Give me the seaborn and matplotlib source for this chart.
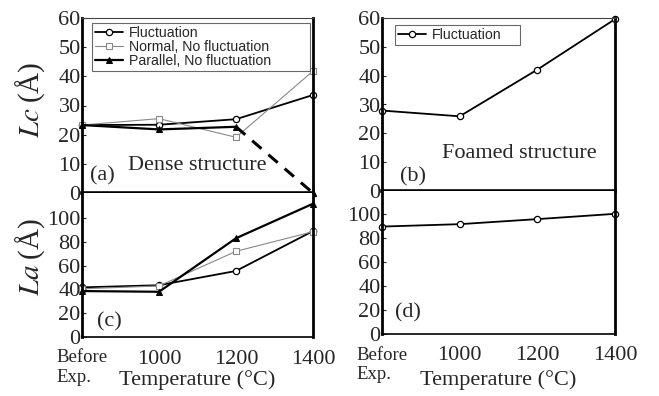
import matplotlib
matplotlib.use("Agg")
import matplotlib.pyplot as plt
import seaborn as sns

# ── Data ──────────────────────────────────────────────────────
temps = ["Before\nExp.", "1000", "1200", "1400"]
xpos = [0, 1, 2, 3]

# (a) dense structure, Lc
dense_lc_fluct = [23.3, 23.4, 25.3, 33.6]
dense_lc_normal = [23.3, 25.5, 19.1, 41.8]
dense_lc_parallel = [23.3, 21.8, 22.7, 0.0]

# (c) dense structure, La
dense_la_fluct = [41.7, 43.5, 55.5, 89.0]
dense_la_normal = [40.5, 42.9, 72.0, 88.5]
dense_la_parallel = [38.6, 38.0, 83.0, 112.0]

# (b) / (d) foamed structure
foam_lc_fluct = [27.9, 25.9, 42.1, 59.6]
foam_la_fluct = [89.4, 91.4, 95.6, 100.0]

# ── Style ─────────────────────────────────────────────────────
sns.set_theme(style="white")
plt.rcParams["font.family"] = ["Liberation Serif", "DejaVu Serif"]
plt.rcParams["mathtext.fontset"] = "stix"

fig = plt.figure(figsize=(6.59, 3.96), dpi=100)
W, H = 659, 396


def add_ax(x0, x1, y0, y1):
    return fig.add_axes([x0 / W, 1 - y1 / H, (x1 - x0) / W, (y1 - y0) / H])


axa = add_ax(82, 313, 18, 193)
axc = add_ax(82, 313, 193, 337)
axb = add_ax(382, 615, 18, 191)
axd = add_ax(382, 615, 191, 334)

fluct_kw = dict(color="black", linewidth=1.3, marker="o", markersize=4.5,
                markerfacecolor="white", markeredgecolor="black",
                markeredgewidth=0.9, clip_on=False)
normal_kw = dict(color="#888888", linewidth=0.8, marker="s", markersize=4.5,
                 markerfacecolor="white", markeredgecolor="#888888",
                 markeredgewidth=0.8, clip_on=False)
par_kw = dict(color="black", linewidth=1.6, marker="^", markersize=5,
              markerfacecolor="black", markeredgecolor="black", clip_on=False)

# (a)
sns.lineplot(x=xpos, y=dense_lc_fluct, ax=axa, label="Fluctuation", **fluct_kw)
sns.lineplot(x=xpos, y=dense_lc_normal, ax=axa,
             label="Normal, No fluctuation", **normal_kw)
sns.lineplot(x=xpos[:3], y=dense_lc_parallel[:3], ax=axa,
             label="Parallel, No fluctuation", **par_kw)
axa.plot(xpos[2:], dense_lc_parallel[2:], color="black", linewidth=2.2,
         linestyle=(0, (4, 3)), clip_on=False)
axa.plot(xpos[3:], dense_lc_parallel[3:], linestyle="none", marker="^",
         markersize=5, color="black", clip_on=False)

# (c)
sns.lineplot(x=xpos, y=dense_la_fluct, ax=axc, **fluct_kw)
sns.lineplot(x=xpos, y=dense_la_normal, ax=axc, **normal_kw)
sns.lineplot(x=xpos, y=dense_la_parallel, ax=axc, **par_kw)

# (b), (d)
sns.lineplot(x=xpos, y=foam_lc_fluct, ax=axb, label="Fluctuation", **fluct_kw)
sns.lineplot(x=xpos, y=foam_la_fluct, ax=axd, **fluct_kw)

for top, bot, yl_bot, xlab_y in [(axa, axc, 121, -0.30), (axb, axd, 119, -0.32)]:
    top.set_xlim(0, 3)
    bot.set_xlim(0, 3)
    top.set_ylim(0, 60)
    bot.set_ylim(0, yl_bot)
    top.set_yticks(range(0, 61, 10))
    bot.set_yticks(range(0, 101, 20))
    top.set_xticks([])
    bot.set_xticks(xpos)
    bot.set_xticklabels(temps)
    for ax in (top, bot):
        ax.tick_params(axis="y", direction="in", length=3, width=0.8,
                       labelsize=16, pad=1, left=True)
        for s in ax.spines.values():
            s.set_color("black")
        ax.spines["left"].set_linewidth(2.0)
        ax.spines["right"].set_linewidth(2.0)
    top.spines["top"].set_linewidth(0.8)
    top.spines["top"].set_color("#444444")
    top.spines["bottom"].set_linewidth(2.6)
    bot.spines["top"].set_visible(False)
    bot.spines["bottom"].set_linewidth(1.2)
    bot.tick_params(axis="x", length=0, labelsize=16, pad=9)
    labels = bot.get_xticklabels()
    labels[0].set_fontsize(13.5)
    labels[0].set_multialignment("left")
    bot.set_xlabel("Temperature (°C)", fontsize=16)
    bot.xaxis.set_label_coords(0.5, xlab_y)
    bot.xaxis.label.set_verticalalignment("center")

# y labels
axa.set_ylabel(r"$Lc\;$(Å)", fontsize=21)
axa.yaxis.set_label_coords(-0.15, 0.53)
axc.set_ylabel(r"$La\;$(Å)", fontsize=21)
axc.yaxis.set_label_coords(-0.15, 0.555)

# annotations
axa.text(0.09, 0.1, "(a)", transform=axa.transAxes, fontsize=16,
         ha="center", va="center")
axa.text(0.5, 0.16, "Dense structure", transform=axa.transAxes, fontsize=16,
         ha="center", va="center")
axb.text(0.133, 0.08, "(b)", transform=axb.transAxes, fontsize=16,
         ha="center", va="center")
axb.text(0.59, 0.215, "Foamed structure", transform=axb.transAxes,
         fontsize=16, ha="center", va="center")
axc.text(0.12, 0.105, "(c)", transform=axc.transAxes, fontsize=16,
         ha="center", va="center")
axd.text(0.112, 0.147, "(d)", transform=axd.transAxes, fontsize=16,
         ha="center", va="center")

# legends
leg_font = {"family": "Liberation Sans", "size": 10.2}
la = axa.legend(loc="upper left", bbox_to_anchor=(0.043, 0.714, 0.944, 0.257),
                mode="expand", prop=leg_font, frameon=True, fancybox=False,
                handlelength=2.0, borderpad=0.2, labelspacing=0.0,
                handletextpad=0.4, borderaxespad=0)
la.get_frame().set_edgecolor("#444444")
la.get_frame().set_linewidth(0.8)
lb = axb.legend(loc="upper left", bbox_to_anchor=(0.056, 0.855, 0.536, 0.105),
                mode="expand", prop=leg_font, frameon=True, fancybox=False,
                handlelength=2.0, borderpad=0.2, handletextpad=0.4,
                borderaxespad=0)
lb.get_frame().set_edgecolor("#444444")
lb.get_frame().set_linewidth(0.8)
for ax in (axc, axd):
    if ax.get_legend() is not None:
        ax.get_legend().remove()

plt.savefig("out.png", dpi=100)
plt.close()
